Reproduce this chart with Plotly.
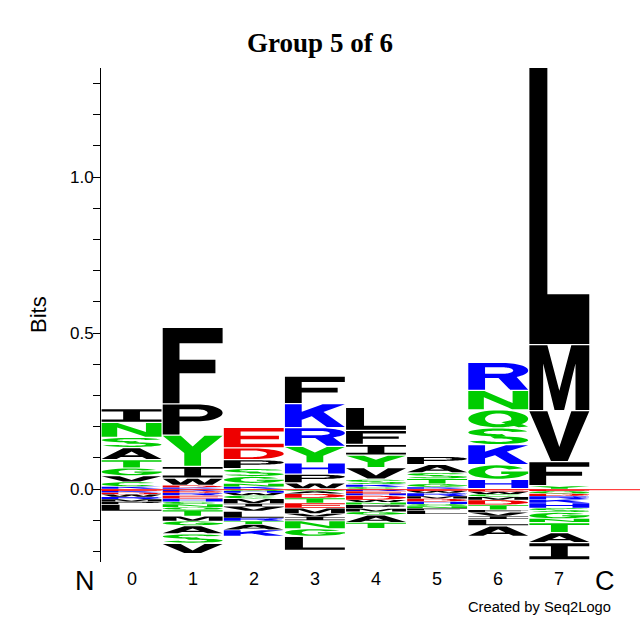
import math
import plotly.graph_objects as go

# ---------------- data (bits) ----------------
positions = ["0", "1", "2", "3", "4", "5", "6", "7"]

# positive stacks, listed from the top of the stack down to zero
pos_letters = [
    ["I", "N", "S", "A", "T", "G", "V", "C", "K"],
    ["F", "P", "Y", "I", "W", "D", "K"],
    ["E", "D", "P", "S", "G", "N", "K"],
    ["F", "K", "R", "Y", "H", "P", "W"],
    ["L", "F", "I", "Y", "V", "S", "K", "C"],
    ["P", "A", "S", "T", "G", "K"],
    ["R", "N", "Q", "S", "K", "G", "H"],
    ["L", "M", "V", "F", "Y"],
]
pos_bits = [
    [0.044, 0.048, 0.033, 0.039, 0.026, 0.025, 0.019, 0.015, 0.007],
    [0.245, 0.100, 0.100, 0.038, 0.022, 0.006, 0.005],
    [0.066, 0.038, 0.028, 0.025, 0.022, 0.010, 0.007],
    [0.088, 0.077, 0.060, 0.053, 0.036, 0.028, 0.018],
    [0.074, 0.045, 0.034, 0.040, 0.037, 0.016, 0.008, 0.006],
    [0.026, 0.026, 0.019, 0.016, 0.010, 0.006],
    [0.090, 0.062, 0.058, 0.054, 0.064, 0.047, 0.029],
    [0.892, 0.212, 0.163, 0.077, 0.009],
]

# negative stacks, listed from zero downwards
neg_letters = [
    ["E", "K", "D", "W", "R", "M", "P", "L"],
    ["K", "D", "R", "E", "H", "C", "N", "Q", "T", "M", "G", "A", "S", "V"],
    ["Q", "H", "W", "C", "M", "I", "V", "L", "R", "T", "A", "K"],
    ["Q", "A", "D", "T", "E", "M", "V", "I", "N", "G", "L"],
    ["R", "E", "H", "D", "W", "N", "P", "M", "G", "A", "T"],
    ["E", "W", "R", "M", "D", "H", "Q", "N", "F", "L"],
    ["E", "W", "C", "M", "D", "T", "F", "V", "I", "L", "A"],
    ["E", "Q", "D", "R", "K", "H", "S", "G", "N", "T", "A", "I"],
]
neg_bits = [
    [0.006, 0.005, 0.006, 0.008, 0.007, 0.008, 0.008, 0.022],
    [0.006, 0.006, 0.008, 0.010, 0.010, 0.008, 0.010, 0.008, 0.020, 0.016, 0.014, 0.026, 0.030, 0.033],
    [0.006, 0.006, 0.008, 0.010, 0.016, 0.010, 0.014, 0.022, 0.010, 0.010, 0.018, 0.020],
    [0.006, 0.008, 0.014, 0.016, 0.016, 0.018, 0.010, 0.012, 0.026, 0.024, 0.045],
    [0.006, 0.008, 0.006, 0.014, 0.008, 0.008, 0.012, 0.010, 0.010, 0.024, 0.019],
    [0.006, 0.006, 0.010, 0.008, 0.010, 0.008, 0.006, 0.008, 0.006, 0.012],
    [0.008, 0.008, 0.008, 0.010, 0.016, 0.016, 0.008, 0.012, 0.010, 0.020, 0.034],
    [0.006, 0.008, 0.008, 0.010, 0.012, 0.016, 0.014, 0.020, 0.012, 0.032, 0.032, 0.055],
]

y_tick_vals = [0.0, 0.5, 1.0]
y_tick_text = ["0.0", "0.5", "1.0"]

# ---------------- colours ----------------
GREEN, BLUE, RED, BLACK = "#00cc00", "#0000ff", "#ee0000", "#000000"
letter_color = {}
for c in "AVLIPWFM":
    letter_color[c] = BLACK
for c in "STYNQGC":
    letter_color[c] = GREEN
for c in "KRH":
    letter_color[c] = BLUE
for c in "DE":
    letter_color[c] = RED


# ---------------- glyph outlines in a unit box ----------------
def rect(x0, y0, x1, y1):
    return [(x0, y0), (x1, y0), (x1, y1), (x0, y1)]


def arc(cx, cy, rx, ry, a0, a1, n=28):
    pts = []
    for i in range(n + 1):
        a = math.radians(a0 + (a1 - a0) * i / n)
        pts.append((cx + rx * math.cos(a), cy + ry * math.sin(a)))
    return pts


def ring_arc(cx, cy, rx, ry, tx, ty, a0, a1):
    return arc(cx, cy, rx, ry, a0, a1) + arc(cx, cy, rx - tx, ry - ty, a1, a0)


SX, SY = 0.28, 0.18


def glyph(ch):
    P = []  # list of (polygon, is_hole)
    if ch == "A":
        P.append(([(0, 0), (0.36, 1), (0.64, 1), (1, 0), (0.75, 0), (0.678, 0.2),
                   (0.322, 0.2), (0.25, 0)], False))
        P.append(([(0.38, 0.36), (0.62, 0.36), (0.5, 0.69)], True))
    elif ch == "V":
        P.append(([(0, 1), (0.3, 1), (0.5, 0.28), (0.7, 1), (1, 1), (0.64, 0), (0.36, 0)], False))
    elif ch == "Y":
        P.append(([(0, 1), (0.3, 1), (0.5, 0.64), (0.7, 1), (1, 1), (0.64, 0.42),
                   (0.64, 0), (0.36, 0), (0.36, 0.42)], False))
    elif ch == "W":
        P.append(([(0, 1), (0.2, 1), (0.3, 0.32), (0.41, 1), (0.59, 1), (0.7, 0.32), (0.8, 1),
                   (1, 1), (0.83, 0), (0.6, 0), (0.5, 0.62), (0.4, 0), (0.17, 0)], False))
    elif ch == "M":
        P.append(([(0, 0), (0, 1), (0.3, 1), (0.5, 0.3), (0.7, 1), (1, 1), (1, 0), (0.77, 0),
                   (0.77, 0.72), (0.58, 0), (0.42, 0), (0.23, 0.72), (0.23, 0)], False))
    elif ch == "N":
        P.append(([(0, 0), (0, 1), (0.27, 1), (0.74, 0.34), (0.74, 1), (1, 1), (1, 0),
                   (0.73, 0), (0.26, 0.66), (0.26, 0)], False))
    elif ch == "H":
        P.append(([(0, 0), (0, 1), (SX, 1), (SX, 0.6), (1 - SX, 0.6), (1 - SX, 1), (1, 1),
                   (1, 0), (1 - SX, 0), (1 - SX, 0.42), (SX, 0.42), (SX, 0)], False))
    elif ch == "K":
        P.append((rect(0, 0, SX, 1), False))
        P.append(([(SX - 0.02, 0.3), (1, 1), (0.63, 1), (SX - 0.02, 0.65)], False))
        P.append(([(0.42, 0.52), (0.7, 0), (1, 0), (0.62, 0.7)], False))
    elif ch == "L":
        P.append((rect(0, 0, 0.3, 1), False))
        P.append((rect(0, 0, 1, SY), False))
    elif ch == "I":
        P.append((rect(0, 1 - SY, 1, 1), False))
        P.append((rect(0, 0, 1, SY), False))
        P.append((rect(0.36, 0, 0.64, 1), False))
    elif ch == "T":
        P.append((rect(0, 0.8, 1, 1), False))
        P.append((rect(0.36, 0, 0.64, 1), False))
    elif ch == "E":
        P.append((rect(0, 0, SX, 1), False))
        P.append((rect(0, 1 - SY, 1, 1), False))
        P.append((rect(0, 0.41, 0.92, 0.59), False))
        P.append((rect(0, 0, 1, SY), False))
    elif ch == "F":
        P.append((rect(0, 0, SX, 1), False))
        P.append((rect(0, 0.8, 1, 1), False))
        P.append((rect(0, 0.4, 0.88, 0.58), False))
    elif ch in ("P", "R"):
        P.append(([(0, 0), (0, 1), (0.58, 1)] + arc(0.58, 0.72, 0.42, 0.28, 90, -90) +
                  [(SX, 0.44), (SX, 0)], False))
        P.append(([(SX, 0.6), (SX, 0.84), (0.58, 0.84)] + arc(0.58, 0.72, 0.17, 0.12, 90, -90), True))
        if ch == "R":
            P.append(([(0.48, 0.5), (0.8, 0.5), (1, 0), (0.7, 0)], False))
    elif ch == "D":
        P.append(([(0, 0), (0, 1), (0.45, 1)] + arc(0.45, 0.5, 0.55, 0.5, 90, -90), False))
        P.append(([(SX, SY), (SX, 1 - SY), (0.45, 1 - SY)] +
                  arc(0.45, 0.5, 0.55 - SX, 0.5 - SY, 90, -90), True))
    elif ch == "C":
        P.append((ring_arc(0.5, 0.5, 0.5, 0.5, SX, SY, 40, 320), False))
    elif ch == "G":
        P.append((ring_arc(0.5, 0.5, 0.5, 0.5, SX, SY, 35, 360), False))
        P.append((rect(0.55, 0.36, 1, 0.54), False))
    elif ch == "Q":
        P.append((arc(0.5, 0.5, 0.5, 0.5, 0, 360, 40), False))
        P.append((arc(0.5, 0.5, 0.5 - SX, 0.5 - SY, 0, 360, 40), True))
        P.append(([(0.55, 0.3), (0.72, 0.42), (1, 0.05), (0.84, 0)], False))
    elif ch == "S":
        P.append((ring_arc(0.5, 0.75, 0.5, 0.25, 0.26, 0.14, 15, 285), False))
        P.append((ring_arc(0.5, 0.25, 0.5, 0.25, 0.26, 0.14, 105, -165), False))
    return P


def signed_area(poly):
    s = 0.0
    for i in range(len(poly)):
        x0, y0 = poly[i]
        x1, y1 = poly[(i + 1) % len(poly)]
        s += x0 * y1 - x1 * y0
    return s / 2


def glyph_path(ch, x0, x1, y0, y1):
    w, h = x1 - x0, y1 - y0
    parts = []
    for poly, hole in glyph(ch):
        a = signed_area(poly)
        if (a < 0 and not hole) or (a > 0 and hole):
            poly = poly[::-1]
        pts = [(x0 + u * w, y0 + v * h) for u, v in poly]
        seg = "M" + " L".join(f"{px:.5f},{py:.6f}" for px, py in pts) + " Z"
        parts.append(seg)
    return " ".join(parts)


# ---------------- build the figure ----------------
shapes = []
half_w = 0.49
for i in range(len(positions)):
    xc = i
    # positive stack: bottom of stack is the last listed letter
    base = 0.0
    for ch, b in zip(reversed(pos_letters[i]), reversed(pos_bits[i])):
        gap = min(0.004, 0.12 * b)
        shapes.append(dict(type="path", xref="x", yref="y",
                           path=glyph_path(ch, xc - half_w, xc + half_w, base + gap, base + b),
                           fillcolor=letter_color[ch], line=dict(width=0),
                           fillrule="nonzero", layer="above"))
        base += b
    # negative stack
    top = 0.0
    for ch, b in zip(neg_letters[i], neg_bits[i]):
        gap = min(0.004, 0.12 * b)
        shapes.append(dict(type="path", xref="x", yref="y",
                           path=glyph_path(ch, xc - half_w, xc + half_w, top - b, top - gap),
                           fillcolor=letter_color[ch], line=dict(width=0),
                           fillrule="nonzero", layer="above"))
        top -= b

# red zero line
shapes.append(dict(type="line", xref="paper", yref="y", x0=0, x1=1, y0=-0.002, y1=-0.002,
                   line=dict(color="#ff2020", width=1), layer="above"))

fig = go.Figure()
fig.add_trace(go.Scatter(x=[-0.5, 8.32], y=[0, 0], mode="markers",
                         marker=dict(opacity=0), hoverinfo="skip", showlegend=False))

annotations = []
for i, lab in enumerate(positions):
    annotations.append(dict(x=i, y=0, xref="x", yref="paper", yanchor="top", yshift=-5,
                            text=lab, showarrow=False,
                            font=dict(family="Liberation Sans, Arial", size=18, color="black")))
annotations.append(dict(x=0, y=0, xref="paper", yref="paper", xanchor="center", yanchor="top",
                        xshift=-16, yshift=-2, text="N", showarrow=False,
                        font=dict(family="Liberation Sans, Arial", size=27, color="black")))
annotations.append(dict(x=7.75, y=0, xref="x", yref="paper", yanchor="top", yshift=-2,
                        text="C", showarrow=False,
                        font=dict(family="Liberation Sans, Arial", size=27, color="black")))
annotations.append(dict(x=6.67, y=0, xref="x", yref="paper", yanchor="top", yshift=-35,
                        text="Created by Seq2Logo", showarrow=False,
                        font=dict(family="Liberation Sans, Arial", size=14.7, color="black")))
annotations.append(dict(x=0, y=0.5, xref="paper", yref="paper", xanchor="center",
                        xshift=-63, text="Bits", textangle=-90, showarrow=False,
                        font=dict(family="Liberation Sans, Arial", size=22, color="black")))

fig.update_layout(
    width=640, height=640,
    margin=dict(l=101, r=0, t=68, b=78),
    paper_bgcolor="white", plot_bgcolor="white",
    title=dict(text="<b>Group 5 of 6</b>", x=0.5, xanchor="center", y=0.934, yanchor="middle",
               font=dict(family="Liberation Serif, Times New Roman", size=27, color="black")),
    shapes=shapes,
    annotations=annotations,
    showlegend=False,
    xaxis=dict(range=[-0.5, 8.32], showgrid=False, zeroline=False, showline=False,
               showticklabels=False, ticks="", fixedrange=True),
    yaxis=dict(range=[-0.234, 1.35], showgrid=False, zeroline=False, showline=True,
               linecolor="black", linewidth=1, ticks="outside", ticklen=7, tickwidth=1,
               tickcolor="black", tickvals=y_tick_vals, ticktext=y_tick_text,
               tickfont=dict(family="Liberation Sans, Arial", size=17, color="black"),
               ticklabelstandoff=-4,
               minor=dict(dtick=0.1, tick0=0, ticks="outside", ticklen=7, tickwidth=1,
                          tickcolor="black", showgrid=False),
               fixedrange=True),
)

fig.write_html("out.html")
